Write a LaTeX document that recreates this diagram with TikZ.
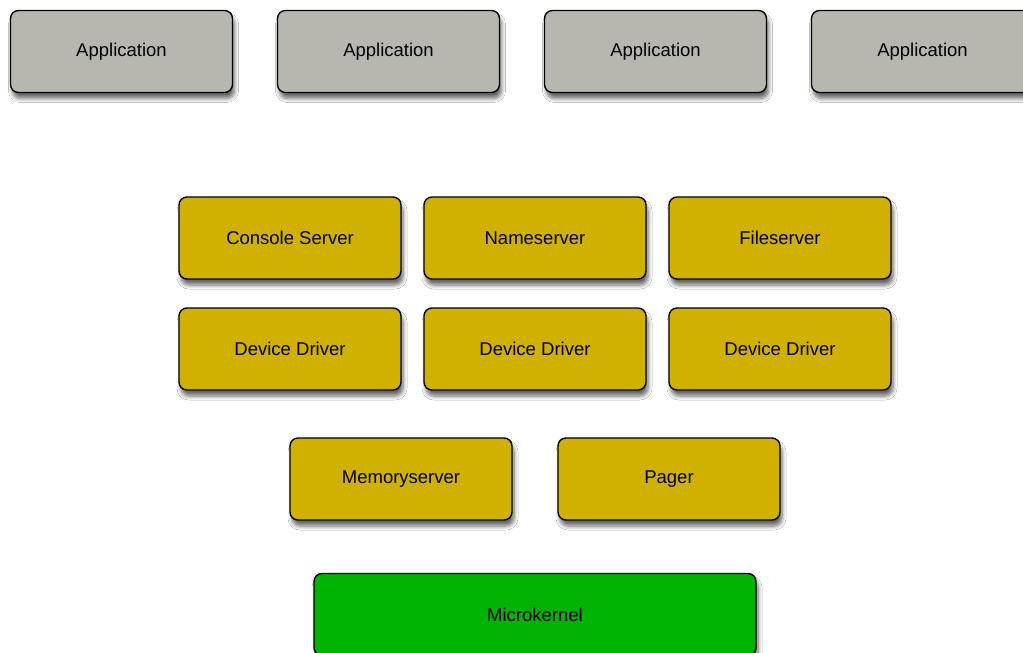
\documentclass[tikz,border=0pt]{standalone}
\usepackage{fontspec}
\setmainfont{Liberation Sans}
\usetikzlibrary{shadows.blur}

\definecolor{appgray}{RGB}{183,183,176}
\definecolor{servyellow}{RGB}{208,176,0}
\definecolor{kerngreen}{RGB}{0,178,0}

\tikzset{
  layerbox/.style={draw=black, line width=1.4pt, rounded corners=8pt,
    minimum width=222pt, minimum height=82pt, font=\fontsize{18.5}{21}\selectfont,
    blur shadow={shadow xshift=2pt, shadow yshift=-6pt, shadow blur steps=6,
      shadow blur radius=4pt, shadow opacity=60}},
  appbox/.style={layerbox, fill=appgray},
  servbox/.style={layerbox, fill=servyellow},
  kernbox/.style={layerbox, fill=kerngreen, minimum width=442pt}
}

\begin{document}
\begin{tikzpicture}[x=1pt, y=-1pt]
            % Set up the page
            \useasboundingbox (0,0) rectangle (1023,653);
            \clip (0,0) rectangle (1023,653);
            \fill[white] (0,0) rectangle (1023,653);

            % Applications
            \node[appbox] (app1) at (121.5,51.5) {Application};
            \node[appbox] (app2) at (388.5,51.5) {Application};
            \node[appbox] (app3) at (655.5,51.5) {Application};
            \node[appbox] (app4) at (922.5,51.5) {Application};

            % Servers
            \node[servbox] (console) at (290,238) {Console Server};
            \node[servbox] (names) at (535,238) {Nameserver};
            \node[servbox] (files) at (780,238) {Fileserver};

            % Drivers
            \node[servbox] (drv1) at (290,349) {Device Driver};
            \node[servbox] (drv2) at (535,349) {Device Driver};
            \node[servbox] (drv3) at (780,349) {Device Driver};

            % Memory management
            \node[servbox] (mem) at (401,479) {Memoryserver};
            \node[servbox] (pager) at (669,479) {Pager};

            % Kernel
            \node[kernbox] (kernel) at (535,614.5) {Microkernel};

        \end{tikzpicture}
\end{document}
